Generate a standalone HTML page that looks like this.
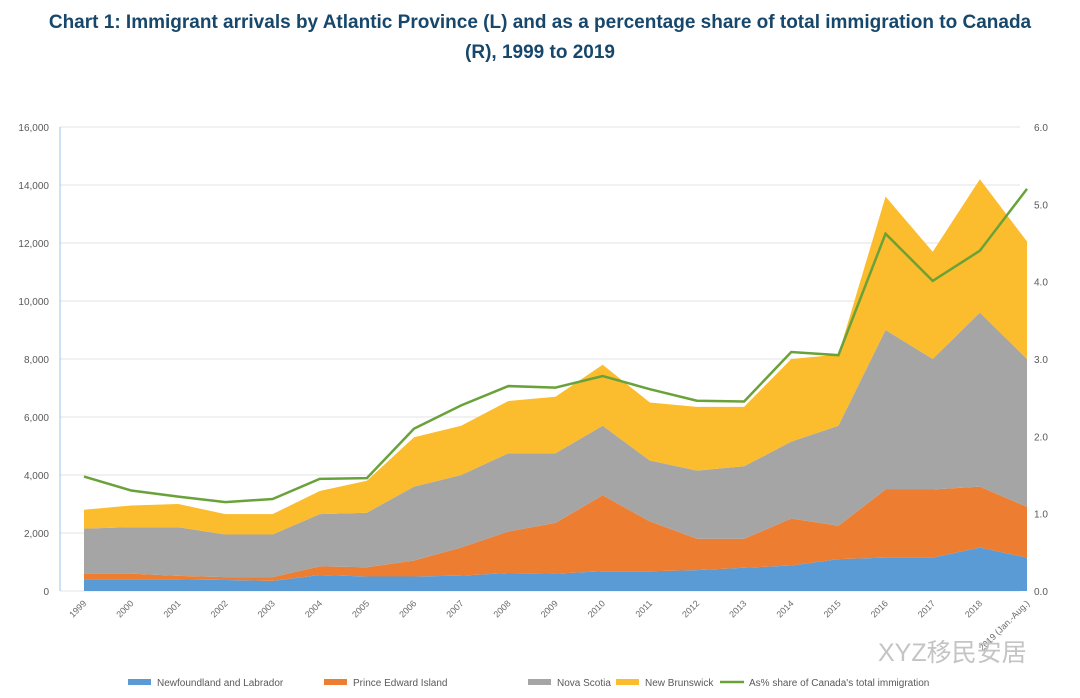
<!DOCTYPE html>
<html><head><meta charset="utf-8"><style>
body{margin:0;width:1080px;height:698px;background:#fff;font-family:"Liberation Sans",sans-serif;overflow:hidden}
#title{position:absolute;left:0;top:8px;width:1080px;text-align:center;font-weight:bold;font-size:19px;line-height:30px;color:#17476b}
svg{position:absolute;left:0;top:0}
</style></head><body>
<div id="title">Chart 1: Immigrant arrivals by Atlantic Province (L) and as a percentage share of total immigration to Canada<br>(R), 1999 to 2019</div>
<svg id="chart" width="1080" height="698"></svg>
<script>
const years=["1999","2000","2001","2002","2003","2004","2005","2006","2007","2008","2009","2010","2011","2012","2013","2014","2015","2016","2017","2018","2019 (Jan.-Aug.)"];
const nl=[400,400,400,380,350,550,500,500,530,620,600,680,680,720,800,880,1100,1150,1150,1500,1150];
const pei=[200,200,120,100,130,300,320,550,970,1430,1750,2620,1720,1080,1000,1620,1150,2350,2350,2100,1750];
const ns=[1550,1600,1680,1470,1470,1800,1880,2550,2500,2700,2400,2400,2100,2350,2500,2650,3450,5500,4500,6000,5100];
const nb=[650,750,800,700,700,800,1100,1700,1700,1800,1950,2100,2000,2200,2050,2850,2450,4600,3700,4600,4050];
const pct=[1.48,1.30,1.22,1.15,1.19,1.45,1.46,2.10,2.40,2.65,2.63,2.78,2.61,2.46,2.45,3.09,3.05,4.62,4.01,4.40,5.20];
const leftTicks=[0,2000,4000,6000,8000,10000,12000,14000,16000];
const rightTicks=[0,1,2,3,4,5,6];
const seriesNames=["Newfoundland and Labrador","Prince Edward Island","Nova Scotia","New Brunswick"];
const colors=["#5b9bd5","#ed7d31","#a5a5a5","#fbbc2d"];
const NS="http://www.w3.org/2000/svg";
const svg=document.getElementById('chart');
const X0=84,X1=1027,Y0=591,Y1=127;
const x=i=>X0+(X1-X0)*i/(years.length-1);
const yL=v=>Y0-(Y0-Y1)*v/16000;
const yR=v=>Y0-(Y0-Y1)*v/6;
function mk(t,a){const e=document.createElementNS(NS,t);for(const k in a)e.setAttribute(k,a[k]);svg.appendChild(e);return e;}
leftTicks.forEach(v=>{
 const g=mk('line',{x1:60,x2:1020,y1:yL(v),y2:yL(v),stroke:'#e3e3e3','stroke-width':1});
 
 
 const t=mk('text',{x:49,y:yL(v)+4,'text-anchor':'end','font-size':10,fill:'#595959'});
 t.textContent=v.toLocaleString('en-US');
 
 
});
rightTicks.forEach(v=>{
 const t=mk('text',{x:1034,y:yR(v)+4,'font-size':10,fill:'#595959'});
 t.textContent=v.toFixed(1);
 
 
});
const ax=mk('line',{x1:60,x2:60,y1:Y1,y2:Y0,stroke:'#9dc3e6','stroke-width':1});


const data=[nl,pei,ns,nb];
let base=years.map(()=>0);
data.forEach((s,k)=>{
 const top=base.map((b,i)=>b+s[i]);
 let d='M'+years.map((_,i)=>x(i)+','+yL(top[i])).join('L');
 for(let i=years.length-1;i>=0;i--)d+='L'+x(i)+','+yL(base[i]);
 const p=mk('path',{d:d+'Z',fill:colors[k]});
 
 
 base=top;
});
const ln=mk('polyline',{points:pct.map((v,i)=>x(i)+','+yR(v)).join(' '),fill:'none',stroke:'#6aa23a','stroke-width':2.5});


years.forEach((yv,i)=>{
 const t=mk('text',{x:x(i)+3,y:604,'text-anchor':'end','font-size':9,fill:'#6a6a6a',transform:`rotate(-45 ${x(i)+3} 604)`});
 t.textContent=yv;
 
 
});
const lx=[128,324,528,616,720];
seriesNames.concat(["As% share of Canada's total immigration"]).forEach((n,k)=>{
 const r=mk(k<4?'rect':'line',k<4?{x:lx[k],y:679,width:23,height:6,fill:colors[k]}:{x1:lx[k],x2:lx[k]+24,y1:682,y2:682,stroke:'#6aa23a','stroke-width':2.5});
 
 
 const t=mk('text',{x:lx[k]+29,y:686,'font-size':10,fill:'#595959'});
 t.textContent=n;
 
 
});
const w=mk('text',{x:878,y:661,'font-size':25,fill:'#c4c4c4','font-family':'"Liberation Sans","Noto Sans CJK SC",sans-serif'});
w.textContent='XYZ移民安居';


</script>
</body></html>
